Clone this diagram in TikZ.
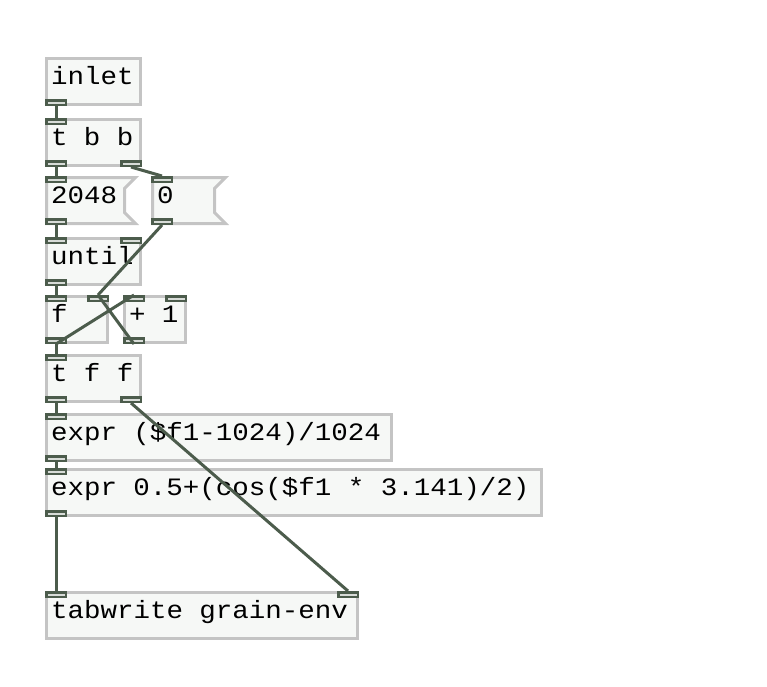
\documentclass[tikz,border=0pt]{standalone}
\usepackage{fontspec}
\newfontfamily\pdfont[FakeStretch=1.1]{Liberation Mono}
\usepackage{tikz}
\usetikzlibrary{positioning}
\usetikzlibrary{backgrounds}
\usepackage{xcolor}

\definecolor{pdborder}{HTML}{C4C4C4}
\definecolor{pdfill}{HTML}{F6F8F6}
\definecolor{pddark}{HTML}{4C5C4C}
\definecolor{pdport}{HTML}{D8DCD8}

\tikzset{
  pdobj/.style={draw=pdborder,fill=pdfill,line width=3pt,anchor=north west,
    minimum height=46pt,inner xsep=4.5pt,inner ysep=0pt,text width=#1,
    align=left,text height=13pt,text depth=8pt,font=\pdfont\fontsize{25}{28}\selectfont,
    execute at begin node={\spaceskip=16.5pt\relax\xspaceskip=16.5pt\relax}},
  pdmsg/.style={pdobj=#1,draw=none,fill=none,outer sep=0pt},
  msgline/.style={draw=pdborder,fill=pdfill,line width=3pt,line join=miter},
  inport/.style={draw=pddark,fill=pdport,line width=2.5pt,minimum width=19.5pt,
    minimum height=4.5pt,inner sep=0pt,anchor=north #1},
  outport/.style={inport,anchor=south #1},
  wire/.style={draw=pddark,line width=3pt}
}

\begin{document}
\begin{tikzpicture}[x=1pt,y=-1pt]
  \useasboundingbox (0,0) rectangle (767,686);

  % objects
  \node[pdobj=85pt] (inlet) at (45,57) {inlet};
  \node[pdobj=85pt] (tbb) at (45,118) {t b b};
  \node[pdmsg=80pt] (m2048) at (46.5,177.5) {2048};
  \node[pdmsg=64pt] (m0) at (152.5,177.5) {0};
  \node[pdobj=85pt] (until) at (45,237) {until};
  \node[pdobj=52pt] (fobj) at (45,295) {f};
  \node[pdobj=52pt] (plus) at (123,295) {+ 1};
  \node[pdobj=85pt] (tff) at (45,354) {t f f};
  \node[pdobj=336pt] (exprA) at (45,413) {expr (\$f1-1024)/1024};
  \node[pdobj=486pt] (exprB) at (45,468) {expr 0.5+(cos(\$f1 * 3.141)/2)};
  \node[pdobj=302pt] (tabw) at (45,591) {tabwrite grain-env};

  % message flags
  \begin{scope}[on background layer]
    \foreach \m in {m2048,m0}
      \draw[msgline] (\m.north west) -- (\m.north east)
        -- ([xshift=-11pt,yshift=-11pt]\m.north east)
        -- ([xshift=-11pt,yshift=11pt]\m.south east)
        -- (\m.south east) -- (\m.south west) -- cycle;
  \end{scope}

  % ports
  \node[outport=west] (inlet-o0) at (inlet.south west) {};
  \node[inport=west] (tbb-i0) at (tbb.north west) {};
  \node[outport=west] (tbb-o0) at (tbb.south west) {};
  \node[outport=east] (tbb-o1) at (tbb.south east) {};
  \node[inport=west] (m2048-i0) at ([xshift=-1.5pt,yshift=1.5pt]m2048.north west) {};
  \node[outport=west] (m2048-o0) at ([xshift=-1.5pt,yshift=-1.5pt]m2048.south west) {};
  \node[inport=west] (m0-i0) at ([xshift=-1.5pt,yshift=1.5pt]m0.north west) {};
  \node[outport=west] (m0-o0) at ([xshift=-1.5pt,yshift=-1.5pt]m0.south west) {};
  \node[inport=west] (until-i0) at (until.north west) {};
  \node[inport=east] (until-i1) at (until.north east) {};
  \node[outport=west] (until-o0) at (until.south west) {};
  \node[inport=west] (fobj-i0) at (fobj.north west) {};
  \node[inport=east] (fobj-i1) at (fobj.north east) {};
  \node[outport=west] (fobj-o0) at (fobj.south west) {};
  \node[inport=west] (plus-i0) at (plus.north west) {};
  \node[inport=east] (plus-i1) at (plus.north east) {};
  \node[outport=west] (plus-o0) at (plus.south west) {};
  \node[inport=west] (tff-i0) at (tff.north west) {};
  \node[outport=west] (tff-o0) at (tff.south west) {};
  \node[outport=east] (tff-o1) at (tff.south east) {};
  \node[inport=west] (exprA-i0) at (exprA.north west) {};
  \node[outport=west] (exprA-o0) at (exprA.south west) {};
  \node[inport=west] (exprB-i0) at (exprB.north west) {};
  \node[outport=west] (exprB-o0) at (exprB.south west) {};
  \node[inport=west] (tabw-i0) at (tabw.north west) {};
  \node[inport=east] (tabw-i1) at (tabw.north east) {};

  % wires
  \draw[wire] (inlet-o0.south) -- (tbb-i0.north);
  \draw[wire] (tbb-o0.south) -- (m2048-i0.north);
  \draw[wire] (tbb-o1.south) -- (m0-i0.north);
  \draw[wire] (m2048-o0.south) -- (until-i0.north);
  \draw[wire] (m0-o0.south) -- (fobj-i1.north);
  \draw[wire] (until-o0.south) -- (fobj-i0.north);
  \draw[wire] (fobj-o0.south) -- (plus-i0.north);
  \draw[wire] (plus-o0.south) -- (fobj-i1.north);
  \draw[wire] (fobj-o0.south) -- (tff-i0.north);
  \draw[wire] (tff-o0.south) -- (exprA-i0.north);
  \draw[wire] (tff-o1.south) -- (tabw-i1.north);
  \draw[wire] (exprA-o0.south) -- (exprB-i0.north);
  \draw[wire] (exprB-o0.south) -- (tabw-i0.north);
\end{tikzpicture}
\end{document}
